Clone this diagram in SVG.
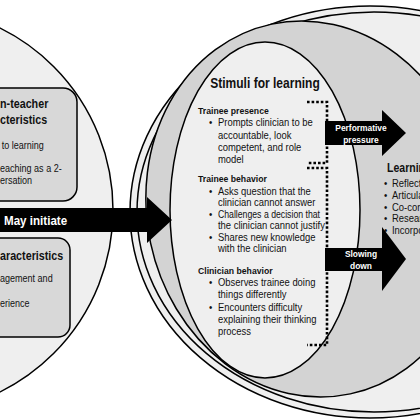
<svg xmlns="http://www.w3.org/2000/svg" width="420" height="420" viewBox="0 0 420 420">
<style>
.t{font-family:"Liberation Sans",Arial,sans-serif;fill:#111}
.b{font-weight:bold}
.w{fill:#fff;font-weight:bold;text-anchor:middle}
.ln{stroke:#000;stroke-width:1.5}
.dot{fill:none;stroke:#000;stroke-width:2.6;stroke-dasharray:2.6 2}
</style>
<rect width="420" height="420" fill="#fff"/>
<g id="left-circle">
<circle cx="-90" cy="210" r="203" fill="#efefef" class="ln"/>
</g>
<g id="box-clinician-teacher">
<rect x="-20" y="88" width="97" height="113" rx="14" fill="#d8d8d8" class="ln"/>
<g transform="scale(0.86 1)">
<text class="t b" font-size="12.5"><tspan x="0" y="108">n-teacher</tspan><tspan x="0" y="124">cteristics</tspan></text>
<text class="t" x="2" y="149" font-size="10.5">to learning</text>
<text class="t" font-size="10.5"><tspan x="0" y="172">eaching as a 2-</tspan><tspan x="0" y="184">ersation</tspan></text>
</g>
</g>
<g id="box-characteristics">
<rect x="-20" y="238" width="90" height="99" rx="12" fill="#d8d8d8" class="ln"/>
<g transform="scale(0.86 1)">
<text class="t b" x="0" y="260" font-size="12.5">aracteristics</text>
<text class="t" x="0" y="282" font-size="10.5">agement and</text>
<text class="t" x="0" y="307" font-size="10.5">erience</text>
</g>
</g>
<g id="outer-context">
<ellipse cx="370" cy="212" rx="240" ry="206" fill="#efefef" class="ln"/>
<ellipse cx="374" cy="212" rx="237" ry="200" fill="#efefef" class="ln"/>
</g>
<g id="learning">
<ellipse cx="311" cy="209" rx="164" ry="189" fill="#d3d3d3" class="ln" transform="rotate(-12 311 209)"/>
<g transform="translate(387,0) scale(0.78 1)">
<text class="t b" x="0" y="172" font-size="13.5">Learnin</text>
</g>
<g transform="scale(0.875 1)">
<text class="t" font-size="10.8"><tspan x="438.9" y="187">•</tspan><tspan x="448" y="187">Reflecti</tspan></text>
<text class="t" font-size="10.8"><tspan x="438.9" y="199">•</tspan><tspan x="448" y="199">Articula</tspan></text>
<text class="t" font-size="10.8"><tspan x="438.9" y="211">•</tspan><tspan x="448" y="211">Co-cons</tspan></text>
<text class="t" font-size="10.8"><tspan x="438.9" y="222.5">•</tspan><tspan x="448" y="222.5">Researc</tspan></text>
<text class="t" font-size="10.8"><tspan x="438.9" y="234.5">•</tspan><tspan x="448" y="234.5">Incorpo</tspan></text>
</g>
</g>
<g id="stimuli">
<ellipse cx="265" cy="210" rx="95" ry="168" fill="#efefef" class="ln"/>
<g transform="translate(265,0) scale(0.86 1)">
<text class="t b" x="0" y="88" font-size="14" text-anchor="middle">Stimuli for learning</text>
</g>
<g transform="scale(0.875 1)">
<text class="t b" x="226.3" y="114" font-size="9.9">Trainee presence</text>
<text class="t" font-size="10.8"><tspan x="238.9" y="126">•</tspan><tspan x="249.1" y="126">Prompts clinician to be</tspan><tspan x="249.1" y="139">accountable, look</tspan><tspan x="249.1" y="151">competent, and role</tspan><tspan x="249.1" y="163">model</tspan></text>
<text class="t b" x="226.3" y="182" font-size="9.9">Trainee behavior</text>
<text class="t" font-size="10.8"><tspan x="238.9" y="195">•</tspan><tspan x="249.1" y="195">Asks question that the</tspan><tspan x="249.1" y="206">clinician cannot answer</tspan></text>
<text class="t" font-size="10.8"><tspan x="238.9" y="218">•</tspan><tspan x="249.1" y="218" textLength="116.6" lengthAdjust="spacingAndGlyphs">Challenges a decision that</tspan><tspan x="249.1" y="229.5">the clinician cannot justify</tspan></text>
<text class="t" font-size="10.8"><tspan x="238.9" y="241.5">•</tspan><tspan x="249.1" y="241.5">Shares new knowledge</tspan><tspan x="249.1" y="252.5">with the clinician</tspan></text>
<text class="t b" x="226.3" y="274" font-size="9.9">Clinician behavior</text>
<text class="t" font-size="10.8"><tspan x="238.9" y="286">•</tspan><tspan x="249.1" y="286">Observes trainee doing</tspan><tspan x="249.1" y="298">things differently</tspan></text>
<text class="t" font-size="10.8"><tspan x="238.9" y="311">•</tspan><tspan x="249.1" y="311">Encounters difficulty</tspan><tspan x="249.1" y="323">explaining their thinking</tspan><tspan x="249.1" y="335">process</tspan></text>
</g>
</g>
<g id="connectors">
<path class="dot" d="M307,102 H327 V163 H307"/>
<path class="dot" d="M307,168 H327 V345 H307"/>
<path d="M0,208 H147 V197 L172,220 L147,243 V232 H0 Z" fill="#000"/>
<g transform="translate(4,0) scale(0.86 1)">
<text class="t b" style="fill:#fff" x="0" y="225" font-size="13.5">May initiate</text>
</g>
<path d="M325,121 H382 V110 L406,133 L382,156 V145 H325 Z" fill="#000"/>
<g transform="translate(361,0) scale(0.86 1)">
<text class="t w" font-size="9.8"><tspan x="0" y="131">Performative</tspan><tspan x="0" y="143">pressure</tspan></text>
</g>
<path d="M325,248 H382 V227 L406,259 L382,291 V271 H325 Z" fill="#000"/>
<g transform="translate(361,0) scale(0.86 1)">
<text class="t w" font-size="9.8"><tspan x="0" y="257">Slowing</tspan><tspan x="0" y="269">down</tspan></text>
</g>
</g>
</svg>
